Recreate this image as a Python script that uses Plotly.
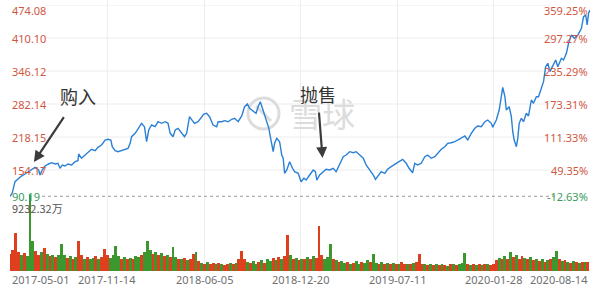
import plotly.graph_objects as go

# ---- data ----
# trading-day index since 2017-05-01 and close price
price_day = [0,3,7,12,16,21,26,30,35,40,42,45,49,54,58,63,67,70,73,77,81,86,91,95,96,100,105,109,114,119,123,128,133,137,141,143,147,151,156,161,165,168,170,175,179,184,188,191,194,198,203,207,212,217,221,224,228,231,235,240,244,247,251,255,258,263,268,271,
             275,279,284,289,291,296,300,305,310,314,319,324,328,332,335,340,344,347,350,353,356,359,362,364,368,370,373,377,380,382,384,387,391,395,398,403,407,411,414,419,424,427,429,433,438,442,447,452,456,461,466,470,475,480,484,489,494,498,503,508,511,516,519,524,528,533,538,544,
             549,554,558,563,566,570,575,580,584,589,594,598,603,608,612,617,622,626,631,636,640,645,650,654,659,664,668,673,675,680,684,687,689,692,694,698,701,703,705,708,710,712,715,718,722,725,729,732,736,739,743,746,749,752,755,759,763,766,771,774,778,781,785,789,794,799,802,805,807,809,811]
price = [103.2,109.0,131.5,138.1,142.5,146.4,150.9,155.5,159.4,154.2,144.5,154.2,161.9,165.8,168.3,165.8,167.2,157.5,163.9,161.9,165.8,163.9,170.3,172.2,185.2,176.9,183.2,189.7,194.3,191.6,198.2,202.6,212.3,213.7,212.3,199.3,191.6,189.7,191.6,194.3,196.2,205.9,218.7,225.3,233.1,244.7,238.1,209.0,231.7,241.4,238.1,247.8,244.7,247.8,244.7,225.3,218.7,231.7,235.0,225.3,218.7,225.3,257.5,249.8,244.7,247.8,256.4,262.7,
         264.1,257.5,241.4,238.1,247.8,247.8,249.8,247.8,252.5,254.4,247.8,258.9,276.9,282.1,273.8,269.1,264.1,276.9,286.6,273.8,260.8,247.8,235.0,218.7,189.7,205.9,215.6,209.0,183.2,176.9,147.7,154.2,170.3,157.5,150.9,147.7,131.5,138.1,134.7,144.5,154.2,150.9,134.7,144.5,150.9,155.5,154.2,157.5,150.9,167.2,180.0,183.2,189.7,187.7,189.7,183.2,176.9,163.9,154.2,144.5,136.1,144.5,150.9,147.7,155.5,160.6,165.8,170.3,
         174.9,167.2,157.5,148.9,167.2,163.9,167.2,180.0,183.2,176.9,180.0,186.5,194.3,199.3,205.9,207.1,209.0,212.3,215.6,220.1,212.3,225.3,235.0,239.5,238.1,247.8,251.1,244.7,237.0,251.1,270.5,296.3,314.5,296.3,270.5,276.9,257.5,228.4,212.3,199.3,215.6,244.7,254.4,247.8,264.1,258.9,289.9,283.5,296.3,296.3,315.7,325.4,354.5,361.1,344.8,357.8,367.5,354.5,370.8,367.5,380.4,399.8,415.9,409.5,415.9,428.9,451.4,454.7,435.3,458.0,464.4]

# volume (万), one bar per 4 trading days, with up(R)/down(G) flag
volume = [2100,2500,4620,2300,1900,2200,1800,9232.32,3600,2400,
          2000,2300,2770,2100,1800,2000,1700,1900,3230,2000,
          1600,1800,1500,1700,3600,1900,1500,1700,1400,1600,
          1800,1500,1700,2680,1900,1600,2000,3050,1800,1500,
          1700,1400,1600,1500,1800,1700,2000,2300,3600,2500,
          2100,2300,1900,2200,1800,2000,1700,2860,1700,1500,
          1400,1600,1300,1500,2030,2300,1200,1000,900,1100,
          850,950,800,1000,900,750,850,950,800,1000,
          1400,2400,1500,1100,1000,1200,900,1100,1300,1000,
          1400,1200,1600,1300,1700,1500,1800,4340,1900,1400,
          1600,1300,1500,1400,1700,1500,1800,1600,5450,2000,
          1500,1700,3320,1400,1300,1100,1200,1000,1100,900,
          1000,1200,900,1100,1000,1300,1100,2120,1000,900,
          1100,800,950,850,1000,800,900,1050,850,900,
          800,950,1100,2120,900,800,700,850,750,900,
          700,800,750,650,800,900,700,850,1000,2220,
          900,750,800,700,850,750,800,900,700,850,
          1300,1600,1400,1800,1500,2300,1700,1900,1500,1850,
          1600,1400,1700,1300,1500,1200,1400,1100,1300,1500,
          1700,2490,1500,1200,1300,1100,1000,1200,1100,1000,
          1150,1050,1100]
vol_dir = ("RRRRGRGGGR" "RGRGRGRGGG" "RGRGRRGRGG" "RGRRRGGGGR" "GRGRGGRGGG"
           "RGRGRGRGGR" "GRGRRGRGRG" "RRGRGRRGRG" "RRRGRGGRGR" "GGRGRGRRGR"
           "GRGRGRGRRR" "GGGRGRGGRG" "RGGRGGRGGR" "GRGRGRGRRG" "RGRRRGRGRG"
           "RGRGRGRGGG" "RGRGRGRGRR" "RGRGRGRGRR" "GRGRGRGRGR" "GGRGRGRGRG" "RGR")
vol_step = 4
vol_day = [i * vol_step for i in range(len(volume))]

base_price = 103.23
price_ticks = [474.08, 410.10, 346.12, 282.14, 218.15, 154.17, 90.19]
pct_labels = ["359.25%", "297.27%", "235.29%", "173.31%", "111.33%", "49.35%", "-12.63%"]
date_tick_day = [0, 136, 272, 406, 542, 676, 811]
date_labels = ["2017-05-01", "2017-11-14", "2018-06-05", "2018-12-20", "2019-07-11", "2020-01-28", "2020-08-14"]
vol_max_label = "9232.32万"

RED = "#d0573f"
GREEN = "#3a9b5c"
W, H = 600, 290
font_num = "Noto Sans, Open Sans, sans-serif"
font_cjk = "Noto Sans CJK SC, sans-serif"
WM = "#dcdcdc"

fig = go.Figure()
fig.add_trace(go.Bar(
    x=vol_day, y=volume, yaxis="y2", width=vol_step,
    marker=dict(color=["#de3f1c" if d == "R" else "#3c982e" for d in vol_dir], line=dict(width=0)),
    hoverinfo="skip"))
fig.add_trace(go.Scatter(
    x=price_day, y=price, mode="lines",
    line=dict(color="#2a80d6", width=1.4), hoverinfo="skip"))

shapes = []
# vertical grid
for d in date_tick_day[1:-1]:
    shapes.append(dict(type="line", xref="x", yref="paper", x0=d, x1=d, y0=19/H, y1=1,
                       line=dict(color="#ececec", width=1), layer="below"))
# horizontal grid
for v in price_ticks[:-1]:
    shapes.append(dict(type="line", xref="paper", yref="y", x0=45/W, x1=548/W, y0=v, y1=v,
                       line=dict(color="#ececec", width=1), layer="below"))
# base price dashed line
shapes.append(dict(type="line", xref="paper", yref="y", x0=42/W, x1=556/W, y0=base_price, y1=base_price,
                   line=dict(color="#9a9a9a", width=1, dash="dot"), layer="below"))
# watermark circle
shapes.append(dict(type="circle", xref="paper", yref="paper", x0=248/W, x1=279/W,
                   y0=(H-129)/H, y1=(H-98)/H, line=dict(color=WM, width=3), layer="below"))
shapes.append(dict(type="line", xref="paper", yref="paper", x0=256/W, x1=271/W,
                   y0=(H-106)/H, y1=(H-121)/H, line=dict(color=WM, width=3), layer="below"))

ann = []
n = len(price_ticks)
for i, (v, p) in enumerate(zip(price_ticks, pct_labels)):
    col = GREEN if i == n - 1 else RED
    ys = -5 if i == 0 else (7 if i == n - 1 else 0)
    ann.append(dict(xref="paper", yref="y", x=10/W, y=v, text=f"{v:.2f}", showarrow=False,
                    xanchor="left", yanchor="middle", yshift=ys, font=dict(size=11, color=col, family=font_num)))
    ann.append(dict(xref="paper", yref="y", x=590/W, y=v, text=p, showarrow=False,
                    xanchor="right", yanchor="middle", yshift=ys, font=dict(size=11, color=col, family=font_num)))
for j, (d, lab) in enumerate(zip(date_tick_day, date_labels)):
    xa = "left" if j == 0 else ("right" if j == len(date_labels) - 1 else "center")
    ann.append(dict(xref="x", yref="paper", x=d, y=(H-279)/H, text=lab, showarrow=False,
                    xanchor=xa, yanchor="middle", font=dict(size=11, color="#707070", family=font_num)))
ann.append(dict(xref="paper", yref="paper", x=10/W, y=(H-208)/H, text=vol_max_label, showarrow=False,
                xanchor="left", yanchor="middle", font=dict(size=11, color="#555555", family=font_cjk)))
# watermark text
ann.append(dict(xref="paper", yref="paper", x=322/W, y=(H-113)/H, text="雪球", showarrow=False,
                xanchor="center", yanchor="middle", font=dict(size=33, color=WM, family=font_cjk)))
# buy / sell arrows
ann.append(dict(xref="x", yref="y", x=33.5, y=169.7, text="购入", showarrow=True,
                ax=44, ay=-66, arrowhead=2, arrowsize=1, arrowwidth=2.2, arrowcolor="#3c3c3c",
                startstandoff=8, font=dict(size=18, color="#333333", family=font_cjk)))
ann.append(dict(xref="x", yref="y", x=437, y=177.4, text="抛售", showarrow=True,
                ax=-5, ay=-64, arrowhead=2, arrowsize=1, arrowwidth=2.2, arrowcolor="#3c3c3c",
                startstandoff=4, font=dict(size=18, color="#333333", family=font_cjk)))

fig.update_layout(
    width=W, height=H, margin=dict(l=0, r=0, t=0, b=0),
    paper_bgcolor="white", plot_bgcolor="rgba(0,0,0,0)",
    showlegend=False, bargap=0,
    xaxis=dict(domain=[10/W, 590/W], range=[0, 811], showgrid=False, zeroline=False,
               showticklabels=False, ticks="", showline=False, fixedrange=True),
    yaxis=dict(domain=[(H-203)/H, (H-5)/H], range=[90.19, 474.08], showgrid=False, zeroline=False,
               showticklabels=False, ticks="", fixedrange=True),
    yaxis2=dict(domain=[19/H, 95/H], range=[0, 9232.32], anchor="x", showgrid=False, zeroline=False,
                showticklabels=False, ticks="", fixedrange=True),
    shapes=shapes, annotations=ann,
)
fig.write_html("out.html")
